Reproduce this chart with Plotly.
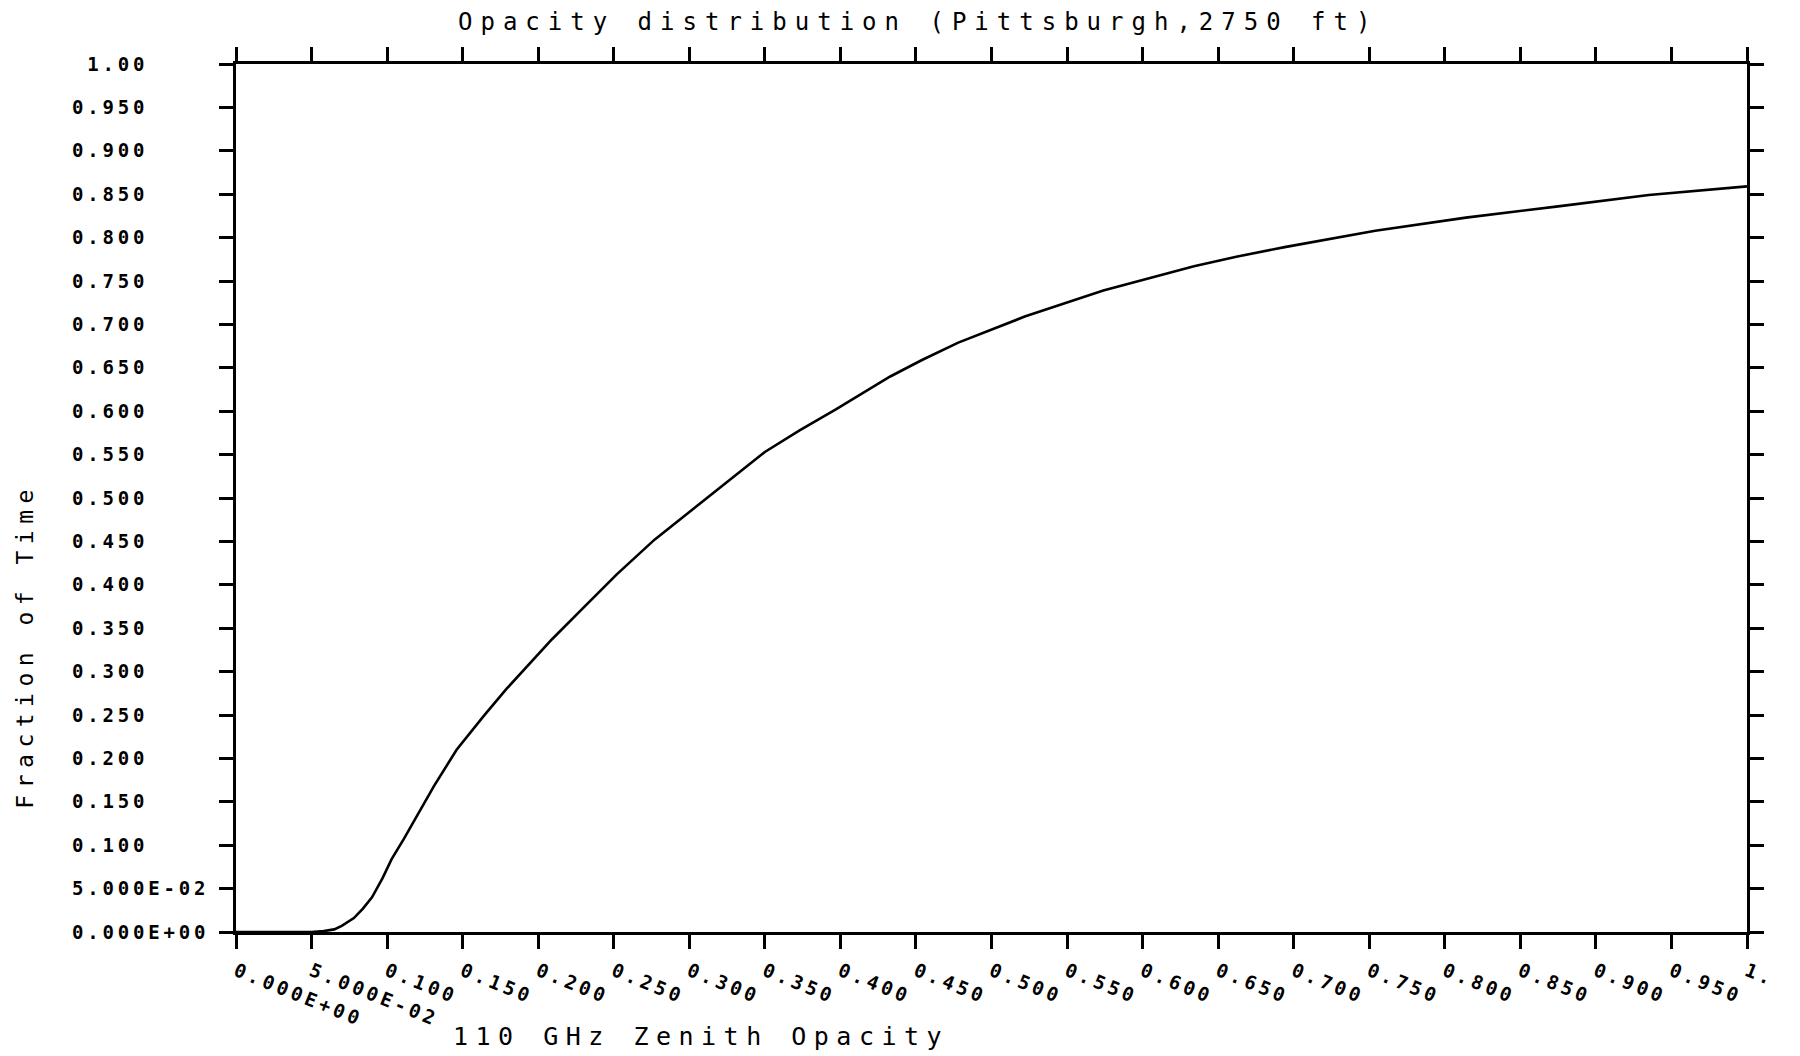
import plotly.graph_objects as go

# Cumulative distribution of 110 GHz zenith opacity (Pittsburgh, 2750 ft)
opacity = [0.000, 0.050, 0.058, 0.065, 0.070, 0.078, 0.084, 0.090, 0.097, 0.103,
           0.111, 0.121, 0.131, 0.146, 0.164, 0.179, 0.189, 0.209, 0.229, 0.252,
           0.277, 0.300, 0.330, 0.350, 0.373, 0.397, 0.433, 0.454, 0.478, 0.522,
           0.574, 0.634, 0.662, 0.694, 0.754, 0.814, 0.875, 0.935, 1.000]
fraction = [0.000, 0.000, 0.001, 0.003, 0.007, 0.016, 0.027, 0.040, 0.062, 0.084,
            0.107, 0.137, 0.168, 0.210, 0.249, 0.280, 0.299, 0.337, 0.372, 0.412,
            0.452, 0.484, 0.525, 0.553, 0.578, 0.602, 0.640, 0.659, 0.679, 0.709,
            0.739, 0.767, 0.778, 0.789, 0.808, 0.823, 0.836, 0.849, 0.859]

tick_vals = [round(0.05 * i, 2) for i in range(21)]
x_tick_labels = ["0.000E+00", "5.000E-02", "0.100", "0.150", "0.200", "0.250", "0.300",
                 "0.350", "0.400", "0.450", "0.500", "0.550", "0.600", "0.650", "0.700",
                 "0.750", "0.800", "0.850", "0.900", "0.950", "1."]
y_tick_labels = ["0.000E+00", "5.000E-02", "0.100", "0.150", "0.200", "0.250", "0.300",
                 "0.350", "0.400", "0.450", "0.500", "0.550", "0.600", "0.650", "0.700",
                 "0.750", "0.800", "0.850", "0.900", "0.950", "1.00"]

title_text = "Opacity distribution (Pittsburgh,2750 ft)"
x_title = "110 GHz Zenith Opacity"
y_title = "Fraction of Time"

MONO = "DejaVu Sans Mono"
NB = "\u00a0"
TICK_SPACING = 3.8


def spaced(s, px):
    return f'<span style="letter-spacing:{px}px">{s}</span>'


def y_label(s):
    # plotter-style fixed field: short labels sit in a 5-wide slot, left-justified
    field = s.rjust(5, NB) if len(s) < 5 else s
    return spaced(field.ljust(9, NB), TICK_SPACING)


L, R, T, B = 236, 53, 64, 123.5
W, H = 1800, 1056
pw, ph = W - L - R, H - T - B


def px_x(x):
    return (x - L) / pw


def px_y(y):
    return (H - B - y) / ph


fig = go.Figure()
fig.add_trace(go.Scatter(x=opacity, y=fraction, mode="lines",
                         line=dict(color="black", width=2.6), showlegend=False,
                         hoverinfo="skip"))

axis_common = dict(showline=True, linecolor="black", linewidth=3, mirror="ticks",
                   ticks="outside", ticklen=14, tickwidth=2.6, tickcolor="black",
                   showgrid=False, zeroline=False, tickmode="array", tickvals=tick_vals,
                   tickfont=dict(family=MONO, size=19, color="black", weight="bold"),
                   range=[0, 1], automargin=False)

fig.update_xaxes(**axis_common, ticktext=[spaced(t, TICK_SPACING) for t in x_tick_labels],
                 tickangle=22, ticklabelstandoff=4)
fig.update_yaxes(**axis_common, ticktext=[y_label(t) for t in y_tick_labels],
                 ticklabelstandoff=6)

fig.add_annotation(text=spaced(title_text, 8), xref="paper", yref="paper",
                   x=px_x(918), y=px_y(22), xanchor="center", yanchor="middle",
                   showarrow=False, font=dict(family=MONO, size=24, color="black"))
fig.add_annotation(text=spaced(x_title, 7.5), xref="paper", yref="paper",
                   x=px_x(451), y=px_y(1037), xanchor="left", yanchor="middle",
                   showarrow=False, font=dict(family=MONO, size=25, color="black"))
fig.add_annotation(text=spaced(y_title, 6.5), xref="paper", yref="paper",
                   x=px_x(25), y=px_y(646), xanchor="center", yanchor="middle",
                   textangle=-90, showarrow=False,
                   font=dict(family=MONO, size=23, color="black"))

fig.update_layout(width=W, height=H, margin=dict(l=L, r=R, t=T, b=B, pad=0),
                  paper_bgcolor="white", plot_bgcolor="white")

fig.write_html("out.html")
